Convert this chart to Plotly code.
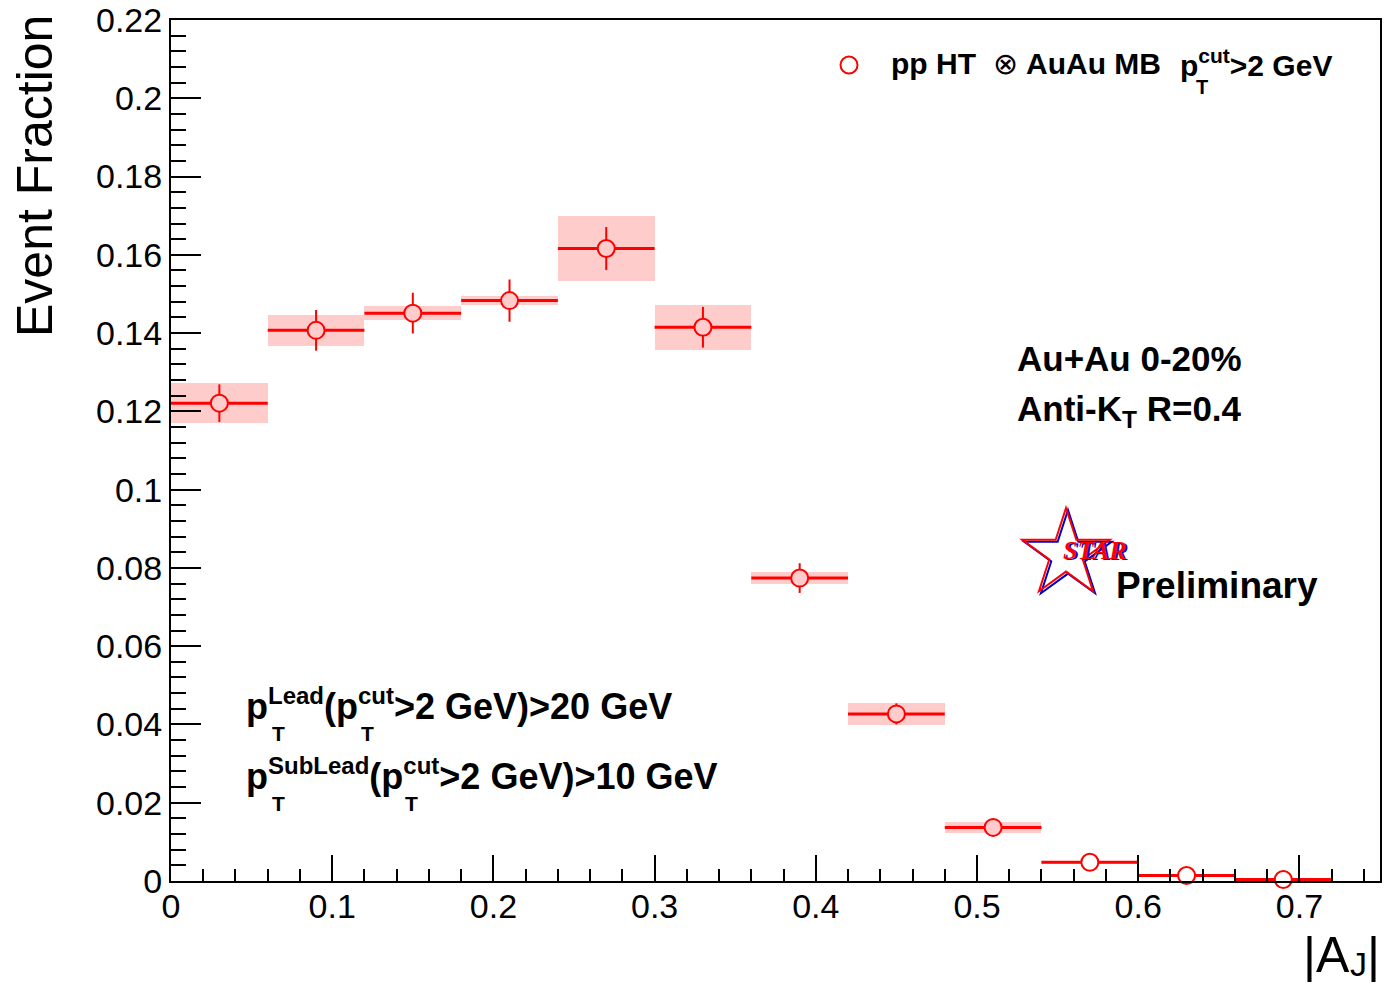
import math
import plotly.graph_objects as go

# |A_J| bins (centres), measured event fractions and uncertainties
aj_centers = [0.03, 0.09, 0.15, 0.21, 0.27, 0.33, 0.39, 0.45, 0.51, 0.57, 0.63, 0.69]
aj_half_width = [0.03] * 12
event_fraction = [0.1221, 0.1407, 0.1451, 0.1483, 0.1616, 0.1415,
                  0.0774, 0.0427, 0.0137, 0.0048, 0.0014, 0.0004]
stat_err = [0.0048, 0.0052, 0.0052, 0.0054, 0.0055, 0.0052,
            0.0038, 0.0027, 0.0018, 0.0012, 0.0006, 0.0002]
sys_err = [0.0051, 0.0040, 0.0018, 0.0012, 0.0084, 0.0057,
           0.0016, 0.0029, 0.0015, 0.0004, 0.0005, 0.0001]

x_tick_vals = [0, 0.1, 0.2, 0.3, 0.4, 0.5, 0.6, 0.7]
x_tick_text = ["0", "0.1", "0.2", "0.3", "0.4", "0.5", "0.6", "0.7"]
y_tick_vals = [0, 0.02, 0.04, 0.06, 0.08, 0.1, 0.12, 0.14, 0.16, 0.18, 0.2, 0.22]
y_tick_text = ["0", "0.02", "0.04", "0.06", "0.08", "0.1", "0.12",
               "0.14", "0.16", "0.18", "0.2", "0.22"]

# canvas geometry (pixels)
W, H = 1384, 984
L, R, T, B = 171, 1380, 20, 881

FONT = "Liberation Sans, Arial, Helvetica, sans-serif"
RED = "#ff0000"
PINK = "#ffcccc"


def px(x):
    return (x - L) / (R - L)


def py(y):
    return (B - y) / (B - T)


fig = go.Figure()

# systematic uncertainty boxes
fig.add_trace(go.Bar(
    x=aj_centers,
    y=[2 * s for s in sys_err],
    base=[v - s for v, s in zip(event_fraction, sys_err)],
    width=[2 * w for w in aj_half_width],
    marker=dict(color=PINK, line=dict(width=0)),
    showlegend=False, hoverinfo="skip",
))

# points with statistical errors and bin widths
marker_fill = [PINK if s >= 0.001 else "white" for s in sys_err]
fig.add_trace(go.Scatter(
    x=aj_centers, y=event_fraction, mode="markers",
    error_x=dict(type="data", array=aj_half_width, color=RED, thickness=3, width=0),
    error_y=dict(type="data", array=stat_err, color=RED, thickness=2, width=0),
    marker=dict(symbol="circle", size=17, color=marker_fill,
                line=dict(color=RED, width=2)),
    cliponaxis=False, showlegend=False,
))

axis_common = dict(
    showline=True, linecolor="black", linewidth=2, mirror=True,
    ticks="inside", tickcolor="black", tickwidth=2,
    showgrid=False, zeroline=False, automargin=False,
    tickfont=dict(family=FONT, size=34, color="black"),
)

fig.update_xaxes(
    range=[0, 0.75], tickmode="array", tickvals=x_tick_vals, ticktext=x_tick_text,
    ticklen=26, ticklabelstandoff=-6,
    minor=dict(tick0=0, dtick=0.02, ticks="inside", ticklen=12,
               tickwidth=2, tickcolor="black", showgrid=False),
    **axis_common,
)
fig.update_yaxes(
    range=[0, 0.22], tickmode="array", tickvals=y_tick_vals, ticktext=y_tick_text,
    ticklen=30,
    minor=dict(tick0=0, dtick=0.004, ticks="inside", ticklen=15,
               tickwidth=2, tickcolor="black", showgrid=False),
    **axis_common,
)

annotations = []


def text(x, y, s, size, xanchor="left", yanchor="middle", bold=True,
         color="black", family=FONT, angle=0, italic=False):
    annotations.append(dict(
        x=px(x), y=py(y), xref="paper", yref="paper", text=s, showarrow=False,
        xanchor=xanchor, yanchor=yanchor, textangle=angle, borderpad=0,
        font=dict(family=family, size=size, color=color,
                  weight="bold" if bold else "normal",
                  style="italic" if italic else "normal"),
    ))


def sup(s, size):
    return f"<sup><span style='font-size:{size}px'>{s}</span></sup>"


# axis titles
text(35, 14, "Event Fraction", 50, xanchor="center", yanchor="top",
     bold=False, angle=-90)
# |A_J| built from pieces so the subscript stays inside the canvas
text(1302, 984, "|A", 50, yanchor="bottom", bold=False)
text(1349, 984, "J", 34, yanchor="bottom", bold=False)
text(1366, 984, "|", 50, yanchor="bottom", bold=False)

# legend entry
text(890, 63, "<b>pp HT</b>  ⊗ <b>AuAu MB</b>", 30, bold=False)
text(1179, 63, "p" + sup("cut", 21) + "&gt;2 GeV", 30)
text(1195, 87, "T", 20)

# collision system / jet definition
text(1016, 358, "Au+Au 0-20%", 35)
text(1016, 411, "Anti-K<sub>T</sub> R=0.4", 35)

# kinematic cuts
text(245, 704, "p" + sup("Lead", 24) + "(p" + sup("cut", 24) + "&gt;2 GeV)&gt;20 GeV", 36)
text(271, 733, "T", 21)
text(360, 733, "T", 21)
text(245, 774, "p" + sup("SubLead", 24) + "(p" + sup("cut", 24) + "&gt;2 GeV)&gt;10 GeV", 36)
text(271, 803, "T", 21)
text(404, 803, "T", 21)

# STAR Preliminary
text(1115, 586, "Preliminary", 37)

shapes = []


def star_path(cx, cy, r_out, r_in):
    pts = []
    for k in range(10):
        ang = math.radians(-90 + 36 * k)
        r = r_out if k % 2 == 0 else r_in
        pts.append((px(cx + r * math.cos(ang)), py(cy + r * math.sin(ang))))
    return "M " + " L ".join(f"{a:.5f},{b:.5f}" for a, b in pts) + " Z"


for dx, col in ((2, "#0000cc"), (0, RED)):
    shapes.append(dict(type="path", xref="paper", yref="paper",
                       path=star_path(1066 + dx, 554 + dx, 46, 17.6),
                       line=dict(color=col, width=2), fillcolor="rgba(0,0,0,0)"))

for dx, col in ((1.5, "#0000cc"), (0, RED)):
    text(1095 + dx, 550 + dx, "STAR", 26, xanchor="center", color=col,
         family="Liberation Serif, Times New Roman, serif", italic=True)

# legend marker
shapes.append(dict(type="circle", xref="paper", yref="paper",
                   x0=px(849 - 8.5), x1=px(849 + 8.5), y0=py(65 + 8.5), y1=py(65 - 8.5),
                   line=dict(color=RED, width=2), fillcolor="white"))

fig.update_layout(
    width=W, height=H,
    margin=dict(l=L, r=W - R, t=T, b=H - B, pad=0),
    paper_bgcolor="white", plot_bgcolor="white",
    barmode="overlay", bargap=0,
    showlegend=False,
    annotations=annotations, shapes=shapes,
    font=dict(family=FONT),
)

fig.write_html("out.html")
